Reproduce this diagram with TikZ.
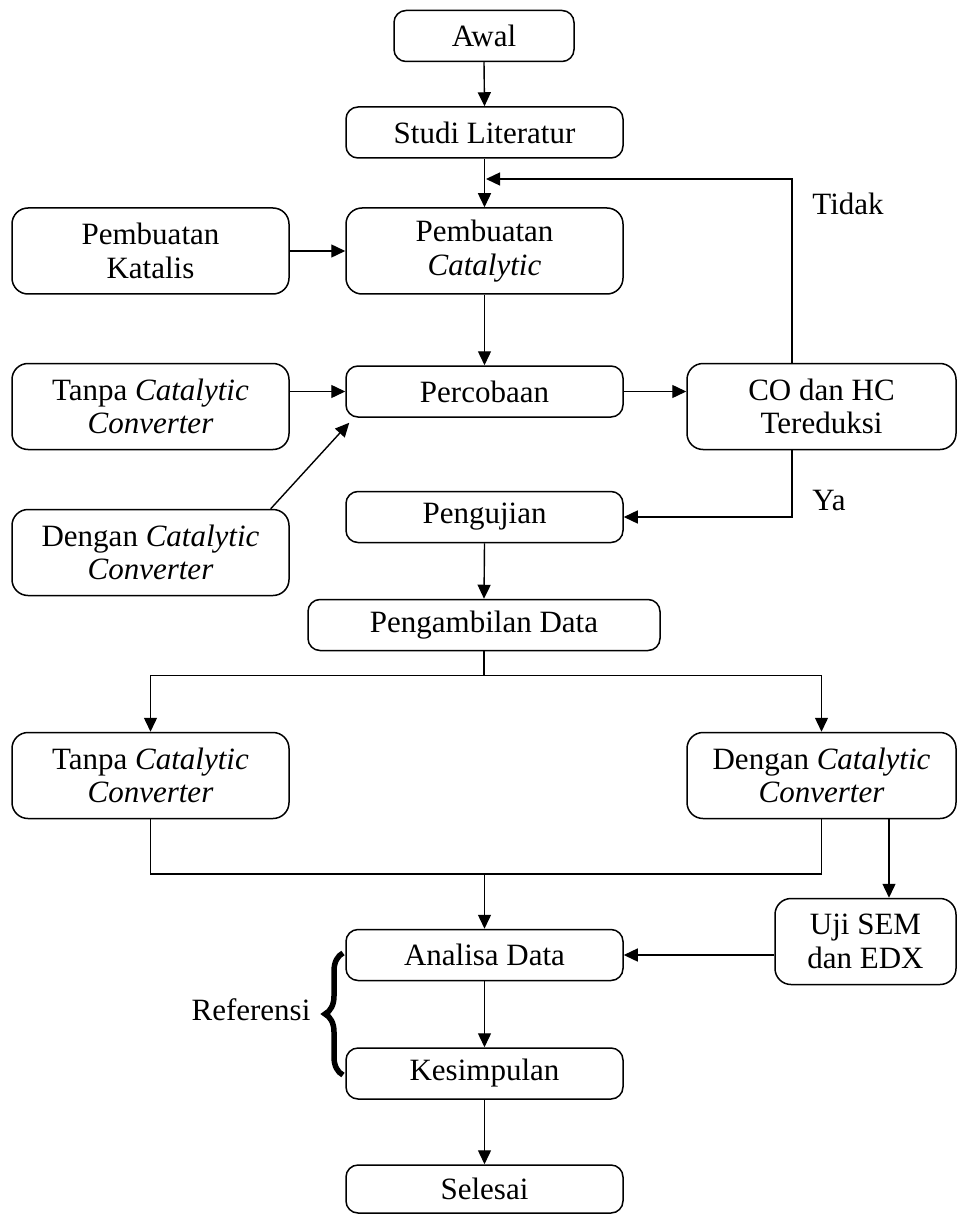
\documentclass[tikz,border=0pt]{standalone}
\usepackage{fontspec}
\setmainfont{Liberation Serif}
\usetikzlibrary{arrows.meta,decorations.pathreplacing,calc}
\begin{document}
\begin{tikzpicture}[x=1pt,y=-1pt,
  box/.style={draw, line width=1.5pt, rounded corners=12pt, align=center, inner sep=0pt, font=\fontsize{31}{33.5}\selectfont},
  sbox/.style={box, minimum height=51pt},
  tbox/.style={box, rounded corners=16pt, minimum height=86pt},
  arr/.style={line width=1.4pt, -{Triangle[length=14pt,width=13pt]}},
  ln/.style={line width=1.4pt},
  lbl/.style={font=\fontsize{31}{33.5}\selectfont, inner sep=0pt}]
\useasboundingbox (0,0) rectangle (958,1214);
\fill[white] (0,0) rectangle (958,1214);

\node[sbox, minimum width=180pt] (awal) at (484,36) {Awal};
\node[sbox, minimum width=277pt] (studi) at (484.5,132.5) {Studi Literatur};
\node[tbox, minimum width=277pt] (katalis) at (150.5,251) {Pembuatan\\Katalis};
\node[tbox, minimum width=277pt] (pcat) at (484.5,251) {Pembuatan\\\textit{Catalytic}};
\node[tbox, minimum width=277pt] (tanpa1) at (150.5,406.5) {Tanpa \textit{Catalytic}\\\textit{Converter}};
\node[sbox, minimum width=277pt] (perc) at (484.5,391.5) {Percobaan};
\node[tbox, minimum width=269pt] (co) at (821.5,406.5) {CO dan HC\\Tereduksi};
\node[tbox, minimum width=277pt] (dengan1) at (150.5,552.5) {Dengan \textit{Catalytic}\\\textit{Converter}};
\node[sbox, minimum width=277pt] (peng) at (484.5,517) {Pengujian};
\node[sbox, minimum width=352pt] (ambil) at (484,625) {Pengambilan Data};
\node[tbox, minimum width=277pt] (tanpa2) at (150.5,775.5) {Tanpa \textit{Catalytic}\\\textit{Converter}};
\node[tbox, minimum width=269pt] (dengan2) at (821.5,775.5) {Dengan \textit{Catalytic}\\\textit{Converter}};
\node[tbox, minimum width=181pt] (uji) at (865.5,941.5) {Uji SEM\\dan EDX};
\node[sbox, minimum width=277pt] (analisa) at (484.5,955) {Analisa Data};
\node[sbox, minimum width=277pt] (kesim) at (484.5,1073.5) {Kesimpulan};
\node[sbox, minimum width=277pt, minimum height=48pt] (selesai) at (484.5,1189) {Selesai};

\node[lbl] (tidak) at (848,204) {Tidak};
\node[lbl] (ya) at (829,500) {Ya};
\node[lbl] (ref) at (251,1010) {Referensi};

\coordinate (xr) at (792,0);
\coordinate (fb) at (486,179);
\coordinate (xu) at (889,0);

\draw[arr] (awal.south) -- (studi.north);
\draw[arr] (studi.south) -- (pcat.north);
\draw[arr] (co.north -| xr) |- (fb);
\draw[arr] (katalis.east) -- (pcat.west);
\draw[arr] (pcat.south) -- (perc.north);
\draw[arr] (tanpa1.east |- perc.west) -- (perc.west);
\draw[arr] (perc.east) -- (perc.east -| co.west);
\draw[arr] (dengan1.20) -- ($(perc.south west)+(4,5)$);
\draw[arr] (co.south -| xr) |- (peng.east);
\draw[arr] (peng.south) -- (ambil.north);
\draw[ln] (ambil.south) -- ++(0,24) coordinate (split);
\draw[arr] (split) -| (tanpa2.north);
\draw[arr] (split) -| (dengan2.north);
\coordinate (join) at (484.5,874);
\draw[ln] (tanpa2.south) |- (join) -| (dengan2.south);
\draw[arr] (join) -- (analisa.north);
\draw[arr] (dengan2.south -| xu) -- (uji.north -| xu);
\draw[arr] (uji.west |- analisa.east) -- (analisa.east);
\draw[arr] (analisa.south) -- (kesim.north);
\draw[arr] (kesim.south) -- (selesai.north);

\draw[line width=5.5pt, decorate, decoration={brace, amplitude=18pt}] (343,1075) -- (343,953);
\end{tikzpicture}
\end{document}
